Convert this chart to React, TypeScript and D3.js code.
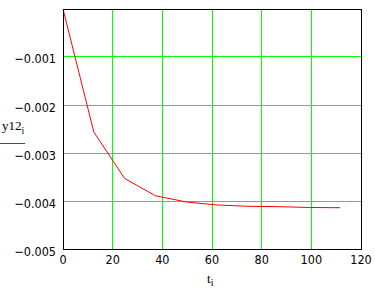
import React from "react";
import * as d3 from "d3";

const tValues = [0, 12.4, 24.8, 37.2, 49.6, 62, 74.4, 86.8, 99.2, 111.6];
const y12Values = [0, -0.00256, -0.00353, -0.00389, -0.00402, -0.004083, -0.00411, -0.004118, -0.004135, -0.00414];
const xTicks = [0, 20, 40, 60, 80, 100, 120];
const yTicks = [0, -0.001, -0.002, -0.003, -0.004, -0.005];
const yTickLabels = ["", "\u22120.001", "\u22120.002", "\u22120.003", "\u22120.004", "\u22120.005"];

const W = 375;
const H = 288;
const L = 63, R = 361, T = 9, B = 249;

export default function App() {
  const x = d3.scaleLinear().domain([0, 120]).range([L, R]);
  const y = d3.scaleLinear().domain([-0.005, 0]).range([B, T]);
  const px = (v: number) => Math.floor(v) + 0.5;
  const line = d3
    .line<number>()
    .x((_, i) => x(tValues[i]))
    .y((d) => y(d));
  const tickFont = "'Liberation Sans Narrow', 'Arial Narrow', 'DejaVu Sans Condensed', Arial, sans-serif";
  const serif = "'Liberation Serif', 'Times New Roman', serif";
  return (
    <svg
      width={W}
      height={H}
      style={{ position: "absolute", left: 0, top: 0, display: "block", background: "#fff" }}
    >
      {xTicks.slice(1, -1).map((t) => (
        <line key={"gx" + t} x1={px(x(t))} x2={px(x(t))} y1={T} y2={B} stroke="#00ff00" strokeWidth={1} />
      ))}
      {yTicks.slice(1, -1).map((v) => (
        <line key={"gy" + v} x1={L} x2={R} y1={px(y(v))} y2={px(y(v))} stroke="#00ff00" strokeWidth={1} />
      ))}
      <path d={line(y12Values) || ""} fill="none" stroke="#ff0000" strokeWidth={1} />
      <rect x={L + 0.5} y={T + 0.5} width={R - L} height={B - T} fill="none" stroke="#000" strokeWidth={1} />
      {xTicks.map((t) => (
        <text key={"xl" + t} x={x(t)} y={264} textAnchor="middle" fontFamily={tickFont} fontSize={12.5} fill="#000">
          {t}
        </text>
      ))}
      {yTicks.map((v, i) =>
        yTickLabels[i] ? (
          <text key={"yl" + i} x={56} y={Math.floor(y(v)) + 6.5} textAnchor="end" fontFamily={tickFont} fontSize={12.5} fill="#000">
            {yTickLabels[i]}
          </text>
        ) : null
      )}
      <text x={2} y={130} fontFamily={serif} fontSize={13} fill="#000">
        y12
        <tspan fontSize={10} dy={4}>i</tspan>
      </text>
      <line x1={0} x2={25} y1={143.5} y2={143.5} stroke="#ff0000" strokeWidth={1} />
      <text x={207} y={283} fontFamily={serif} fontSize={13} fill="#000">
        t
        <tspan fontSize={10} dy={3}>i</tspan>
      </text>
    </svg>
  );
}
